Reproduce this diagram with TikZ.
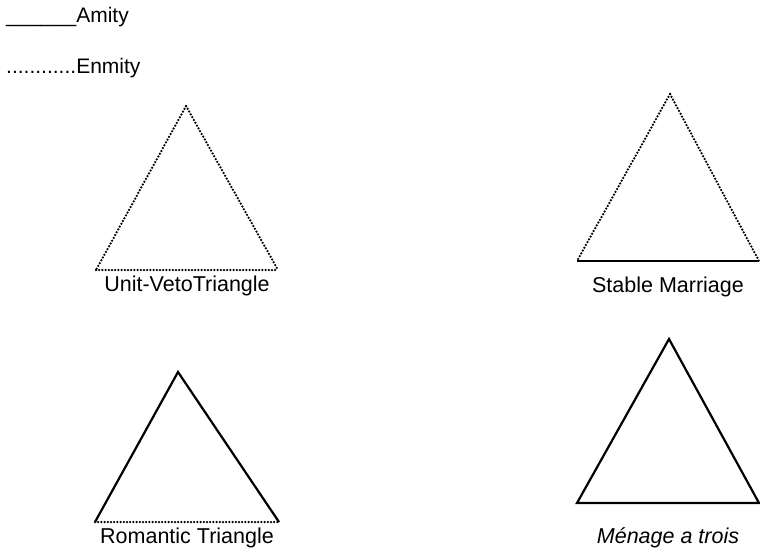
\documentclass[tikz,border=0pt]{standalone}
\usepackage{fontspec}
\setmainfont{Liberation Sans}
\begin{document}
\begin{tikzpicture}[x=1pt,y=-1pt,
  amity/.style={line width=2.2pt},
  enmity/.style={line width=2.5pt,dash pattern=on 0pt off 3.2pt,line cap=round},
  lbl/.style={font=\fontsize{21.5}{25}\selectfont,inner sep=0pt},
  legend/.style={font=\fontsize{21}{25}\selectfont,inner sep=0pt,anchor=west}]
\useasboundingbox (0,0) rectangle (760,552);
% legend
\node[legend] (am) at (6,17) {\_\_\_\_\_\_Amity};
\node[legend] (en) at (6,68) {............Enmity};
% Unit-Veto triangle
\coordinate (a1) at (186,106);
\coordinate (b1) at (96,270);
\coordinate (c1) at (278,270);
\draw[enmity] (a1) -- (b1);
\draw[enmity] (a1) -- (c1);
\draw[enmity] (b1) -- (c1);
\node[lbl] (l1) at (187,286) {Unit-VetoTriangle};
% Stable marriage
\coordinate (a2) at (670,94);
\coordinate (b2) at (577,261);
\coordinate (c2) at (759,261);
\draw[enmity] (a2) -- (b2);
\draw[enmity] (a2) -- (c2);
\draw[amity] (b2) -- (c2);
\node[lbl] (l2) at (668,287) {Stable Marriage};
% Romantic triangle
\coordinate (a3) at (178,372);
\coordinate (b3) at (95,522);
\coordinate (c3) at (279,522);
\draw[amity,line join=miter] (b3) -- (a3) -- (c3);
\draw[enmity] (b3) -- (c3);
\node[lbl] (l3) at (187,538) {Romantic Triangle};
% Menage a trois
\coordinate (a4) at (669,339);
\coordinate (b4) at (577,503);
\coordinate (c4) at (759,503);
\draw[amity,line join=miter] (a4) -- (b4) -- (c4) -- cycle;
\node[lbl] (l4) at (668,538) {\itshape Ménage a trois};
\end{tikzpicture}
\end{document}
